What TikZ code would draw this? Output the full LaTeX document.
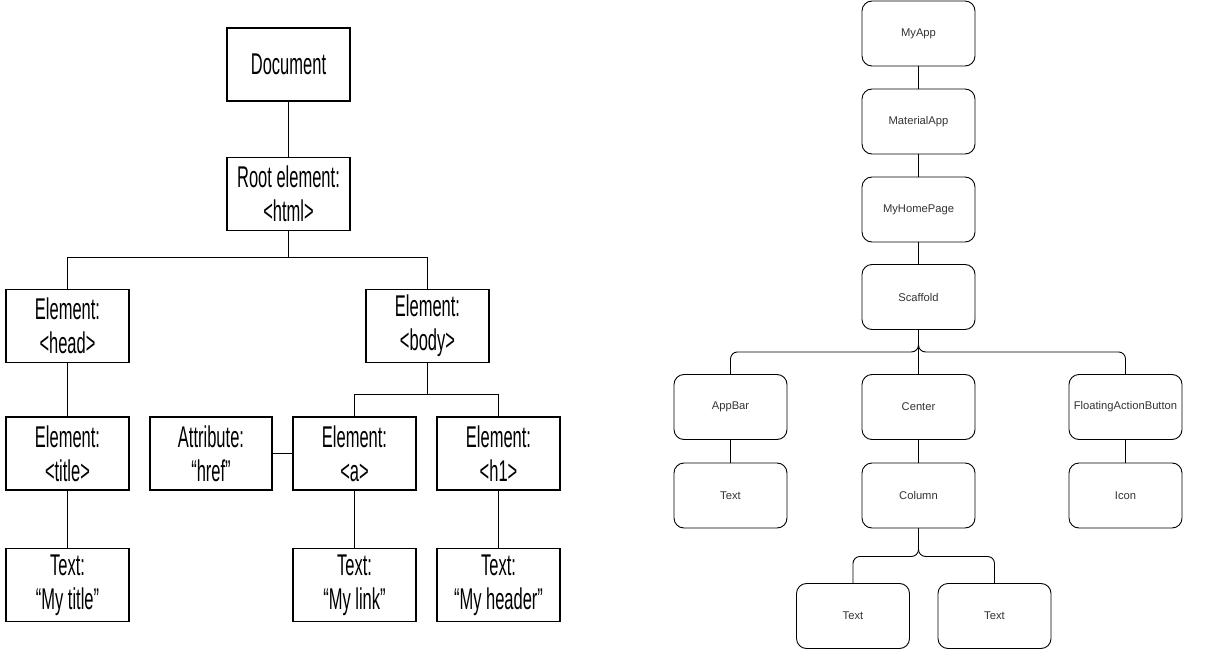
\documentclass[tikz,border=0pt]{standalone}
\usepackage{fontspec}
\newfontfamily\condfont[FakeStretch=0.55]{Liberation Sans}
\newfontfamily\rfont{Liberation Sans}
\definecolor{rtext}{HTML}{333333}
\tikzset{
  lbox/.style={draw=black, line width=1.5pt, minimum width=123pt, minimum height=73pt,
    inner sep=0pt, align=center, font=\condfont\fontsize{30}{34}\selectfont},
  lconn/.style={draw=black, line width=1.3pt},
  rbox/.style={draw=black, line width=0.9pt, rounded corners=10pt, minimum width=113pt,
    minimum height=65pt, inner sep=0pt, align=center, text=rtext,
    font=\rfont\fontsize{11.2}{13}\selectfont},
  rconn/.style={draw=black, line width=0.9pt, rounded corners=7pt}
}
\begin{document}
\begin{tikzpicture}[x=1pt,y=-1pt]
\useasboundingbox (0,0) rectangle (1224,650);
% ---- left tree ----
\node[lbox] (doc)   at (288.5,64.5) {Document};
\node[lbox] (root)  at (288.5,194)  {Root element:\\<html>};
\node[lbox] (head)  at (67.5,326)   {Element:\\<head>};
\node[lbox] (body)  at (427.5,326)  {Element:\\<body>};
\node[lbox] (title) at (67.5,453.5) {Element:\\<title>};
\node[lbox, minimum width=122pt] (attr) at (211,453.5) {Attribute:\\“href”};
\node[lbox] (ela)   at (354.5,453.5) {Element:\\<a>};
\node[lbox] (elh)   at (498.5,453.5) {Element:\\<h1>};
\node[lbox] (txt1)  at (67.5,585)   {Text:\\“My title”};
\node[lbox] (txt2)  at (354.5,585)  {Text:\\“My link”};
\node[lbox] (txt3)  at (498.5,585)  {Text:\\“My header”};
\draw[lconn] (doc.south) -- (root.north);
\draw[lconn] (root.south) -- ++(0,26) -| (head.north);
\draw[lconn] (root.south) -- ++(0,26) -| (body.north);
\draw[lconn] (head.south) -- (title.north);
\draw[lconn] (title.south) -- (txt1.north);
\draw[lconn] (body.south) -- ++(0,31) -| (ela.north);
\draw[lconn] (body.south) -- ++(0,31) -| (elh.north);
\draw[lconn] (attr.east) -- (ela.west);
\draw[lconn] (ela.south) -- (txt2.north);
\draw[lconn] (elh.south) -- (txt3.north);
% ---- right tree ----
\node[rbox] (myapp)  at (918.5,33.5)  {MyApp};
\node[rbox] (mat)    at (918.5,121.5) {MaterialApp};
\node[rbox] (home)   at (918.5,209.5) {MyHomePage};
\node[rbox] (scaf)   at (918.5,297)   {Scaffold};
\node[rbox] (appbar) at (730.5,407)   {AppBar};
\node[rbox] (center) at (918.5,407)   {Center};
\node[rbox] (fab)    at (1125.5,407)  {FloatingActionButton};
\node[rbox] (rtxt)   at (730.5,495.5) {Text};
\node[rbox] (column) at (918.5,495.5) {Column};
\node[rbox] (icon)   at (1125.5,495.5) {Icon};
\node[rbox] (ctA)    at (853,616)     {Text};
\node[rbox] (ctB)    at (994.5,616)   {Text};
\draw[rconn] (myapp.south) -- (mat.north);
\draw[rconn] (mat.south) -- (home.north);
\draw[rconn] (home.south) -- (scaf.north);
\draw[rconn] (scaf.south) -- ++(0,22) -| (appbar.north);
\draw[rconn] (scaf.south) -- (center.north);
\draw[rconn] (scaf.south) -- ++(0,22) -| (fab.north);
\draw[rconn] (appbar.south) -- (rtxt.north);
\draw[rconn] (center.south) -- (column.north);
\draw[rconn] (fab.south) -- (icon.north);
\draw[rconn] (column.south) -- ++(0,28) -| (ctA.north);
\draw[rconn] (column.south) -- ++(0,28) -| (ctB.north);
\end{tikzpicture}
\end{document}
